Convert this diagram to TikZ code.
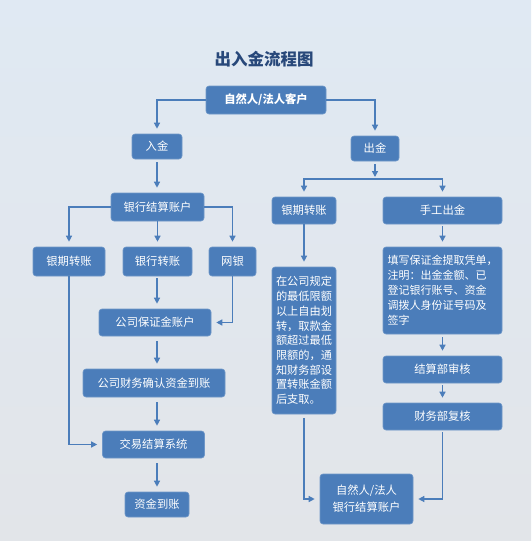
\documentclass[tikz,border=0pt]{standalone}
\usepackage{fontspec}
\setmainfont{Noto Sans CJK SC}
\usepackage{tikz}
\usetikzlibrary{arrows.meta}
\usetikzlibrary{positioning}
\definecolor{boxblue}{RGB}{75, 125, 186}
\definecolor{titleblue}{RGB}{40, 72, 122}
\definecolor{bgtop}{RGB}{224, 233, 243}
\definecolor{bgbot}{RGB}{226, 229, 233}

\begin{document}
\begin{tikzpicture}[x=1pt, y=-1pt,
        flowbox/.style={fill=boxblue, draw=boxblue!80!white, line width=0.6pt, rounded corners=3pt,
            text=white, inner sep=0pt, align=center, font=\fontsize{11.3}{15}\selectfont},
        flowarrow/.style={draw=boxblue, line width=1.3pt, -{Triangle[length=6pt, width=6pt]},
            shorten >=5pt}]
    \shade[top color=bgtop, bottom color=bgbot] (0, 0) rectangle (531, 541);

    \node[text=titleblue, font=\fontsize{16.5}{20}\selectfont\bfseries] (title) at (264, 59) {出入金流程图};

    \node[flowbox, minimum width=120pt, minimum height=28pt, font=\fontsize{11.3}{15}\selectfont\bfseries] (client) at (266, 100) {自然人/法人客户};
    \node[flowbox, minimum width=50pt, minimum height=25pt] (rujin) at (157, 146.5) {入金};
    \node[flowbox, minimum width=48pt, minimum height=25pt] (chujin) at (375, 148.5) {出金};

    % deposit side
    \node[flowbox, minimum width=93pt, minimum height=28pt] (yhjs) at (157.5, 207) {银行结算账户};
    \node[flowbox, minimum width=72pt, minimum height=29pt] (yqzz) at (69, 261.5) {银期转账};
    \node[flowbox, minimum width=69pt, minimum height=29pt] (yhzz) at (157.5, 261.5) {银行转账};
    \node[flowbox, minimum width=47pt, minimum height=29pt] (wy) at (232.5, 261.5) {网银};
    \node[flowbox, minimum width=112pt, minimum height=27pt] (bzj) at (155, 322.5) {公司保证金账户};
    \node[flowbox, minimum width=142pt, minimum height=28pt] (cwqr) at (154, 383) {公司财务确认资金到账};
    \node[flowbox, minimum width=102pt, minimum height=27pt] (jyjs) at (153.5, 444.5) {交易结算系统};
    \node[flowbox, minimum width=64pt, minimum height=25pt] (zjdz) at (157, 504.5) {资金到账};
    \coordinate (col) at (157, 0);

    % withdrawal side
    \node[flowbox, minimum width=64pt, minimum height=27pt] (yqzzb) at (304, 210.5) {银期转账};
    \node[flowbox, minimum width=119pt, minimum height=27pt] (sgcj) at (442.5, 210.5) {手工出金};
    \node[flowbox, minimum width=64pt, minimum height=147pt, align=left, font=\fontsize{11.2}{14.7}\selectfont] (rule) at (304, 340.5)
        {在公司规定\\的最低限额\\以上自由划\\转，取款金\\额超过最低\\限额的，通\\知财务部设\\置转账金额\\后支取。};
    \node[flowbox, minimum width=119pt, minimum height=87pt, align=left, font=\fontsize{11}{15}\selectfont] (fill) at (442.5, 290.5)
        {填写保证金提取凭单，\\注明：出金金额、已\\登记银行账号、资金\\调拨人身份证号码及\\签字};
    \node[flowbox, minimum width=119pt, minimum height=27pt] (jssh) at (442.5, 369.5) {结算部审核};
    \node[flowbox, minimum width=119pt, minimum height=27pt] (cwfh) at (442.5, 416.5) {财务部复核};
    \node[flowbox, minimum width=93pt, minimum height=50pt, font=\fontsize{11.3}{17}\selectfont] (acct) at (366.5, 499) {自然人/法人\\银行结算账户};

    \coordinate (fork) at (375, 179);

    \draw[flowarrow] (client.west) -| (rujin.north);
    \draw[flowarrow] (client.east) -| (chujin.north);
    \draw[flowarrow, shorten <=3pt] (rujin.south) -- (yhjs.north -| rujin.south);
    \draw[flowarrow, shorten <=3pt, shorten >=2pt] (chujin.south) -- (fork);
    \draw[flowarrow] (fork) -| (yqzzb.north);
    \draw[flowarrow] (fork) -| (sgcj.north);

    \draw[flowarrow] (yhjs.west) -| (yqzz.north);
    \draw[flowarrow] (yhjs.south) -- (yhzz.north);
    \draw[flowarrow] (yhjs.east) -| (wy.north);
    \draw[flowarrow, shorten <=2pt] (yhzz.south -| col) -- (bzj.north -| col);
    \draw[flowarrow] (wy.south) |- (bzj.east);
    \draw[flowarrow, shorten <=5pt] (bzj.south -| col) -- (cwqr.north -| col);
    \draw[flowarrow, shorten <=5pt] (cwqr.south -| col) -- (jyjs.north -| col);
    \draw[flowarrow] (yqzz.south) |- (jyjs.west);
    \draw[flowarrow, shorten <=5pt] (jyjs.south -| col) -- (zjdz.north -| col);

    \draw[flowarrow] (yqzzb.south) -- (rule.north);
    \draw[flowarrow, shorten <=2pt] (sgcj.south) -- (fill.north);
    \draw[flowarrow, shorten <=3pt] (fill.south) -- (jssh.north);
    \draw[flowarrow, shorten <=2pt] (jssh.south) -- (cwfh.north);
    \draw[flowarrow, shorten <=4pt] (rule.south) |- (acct.west);
    \draw[flowarrow, shorten <=2pt] (cwfh.south) |- (acct.east);
\end{tikzpicture}
\end{document}
